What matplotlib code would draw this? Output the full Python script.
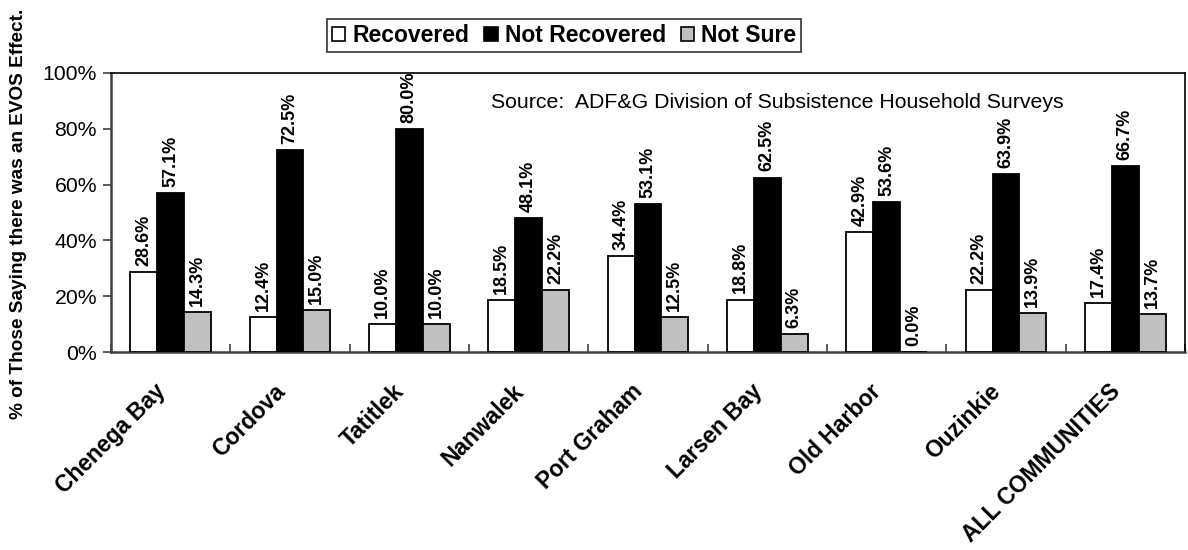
import matplotlib
matplotlib.use("Agg")
import matplotlib.pyplot as plt
import numpy as np
from matplotlib.patches import Patch

categories = ["Chenega Bay", "Cordova", "Tatitlek", "Nanwalek", "Port Graham",
              "Larsen Bay", "Old Harbor", "Ouzinkie", "ALL COMMUNITIES"]
recovered = [28.6, 12.4, 10.0, 18.5, 34.4, 18.8, 42.9, 22.2, 17.4]
not_recovered = [57.1, 72.5, 80.0, 48.1, 53.1, 62.5, 53.6, 63.9, 66.7]
not_sure = [14.3, 15.0, 10.0, 22.2, 12.5, 6.3, 0.0, 13.9, 13.7]
series_names = ["Recovered", "Not Recovered", "Not Sure"]
yticks = [0, 20, 40, 60, 80, 100]

plt.rcParams['font.family'] = ['Liberation Sans', 'DejaVu Sans']

fig = plt.figure(figsize=(11.88, 5.5), dpi=100)
ax = fig.add_axes([111/1188, 1-352/550, (1185-111)/1188, (352-73)/550])

x = np.arange(len(categories))
w = 0.225
colors = ["white", "black", "#c0c0c0"]
series = [recovered, not_recovered, not_sure]
for i, (vals, c) in enumerate(zip(series, colors)):
    pos = x + (i - 1) * w
    ax.bar(pos, vals, width=w, color=c, edgecolor="black", linewidth=1.3, zorder=3)
    for px, v in zip(pos, vals):
        ax.text(px, v + 2.2, f"{v:.1f}%", rotation=90, ha="center", va="bottom",
                fontsize=13, fontweight="bold",
                family=['Liberation Sans Narrow', 'Liberation Sans', 'DejaVu Sans'])

ax.set_xlim(-0.5, len(categories) - 0.5)
ax.set_ylim(0, 100)
ax.set_yticks(yticks)
ax.set_yticklabels([f"{t}%" for t in yticks], fontsize=15.3)
ax.tick_params(axis='y', direction='out', length=6, width=1.2, color="#404040", pad=4)

# category labels (anchored slightly left of each category centre)
ax.set_xticks(x - 0.14)
ax.set_xticklabels(categories, rotation=45, ha="right", rotation_mode="anchor",
                   fontsize=16.5, fontweight="bold")
ax.tick_params(axis='x', length=0, pad=20)
# separator ticks at category boundaries (inward)
ax.set_xticks(np.arange(len(categories) + 1) - 0.5, minor=True)
ax.tick_params(axis='x', which='minor', direction='in', length=6, width=1.2, color="#404040")

for s in ["left", "bottom"]:
    ax.spines[s].set_color("#404040")
    ax.spines[s].set_linewidth(1.8)
for s in ["top", "right"]:
    ax.spines[s].set_color("black")
    ax.spines[s].set_linewidth(1.2)

ax.set_ylabel("% of Those Saying there was an EVOS Effect.", fontsize=13.7,
              fontweight="bold")
ax.yaxis.set_label_coords(-0.078, 0.495)

ax.text(0.354, 0.895, "Source:  ADF&G Division of Subsistence Household Surveys",
        transform=ax.transAxes, fontsize=15.3, ha="left", va="center")

handles = [Patch(facecolor=c, edgecolor="black", linewidth=1.2) for c in colors]
leg = fig.legend(handles, series_names, loc="center", bbox_to_anchor=(564/1188, 1-35.5/550),
                 ncol=3, frameon=True, fancybox=False, edgecolor="black",
                 prop={'size': 16.5, 'weight': 'bold'}, handlelength=0.6, handleheight=0.6,
                 handletextpad=0.3, columnspacing=0.65, borderpad=0.2, borderaxespad=0)
leg.get_frame().set_linewidth(1.2)

fig.savefig("out.png", dpi=100)
